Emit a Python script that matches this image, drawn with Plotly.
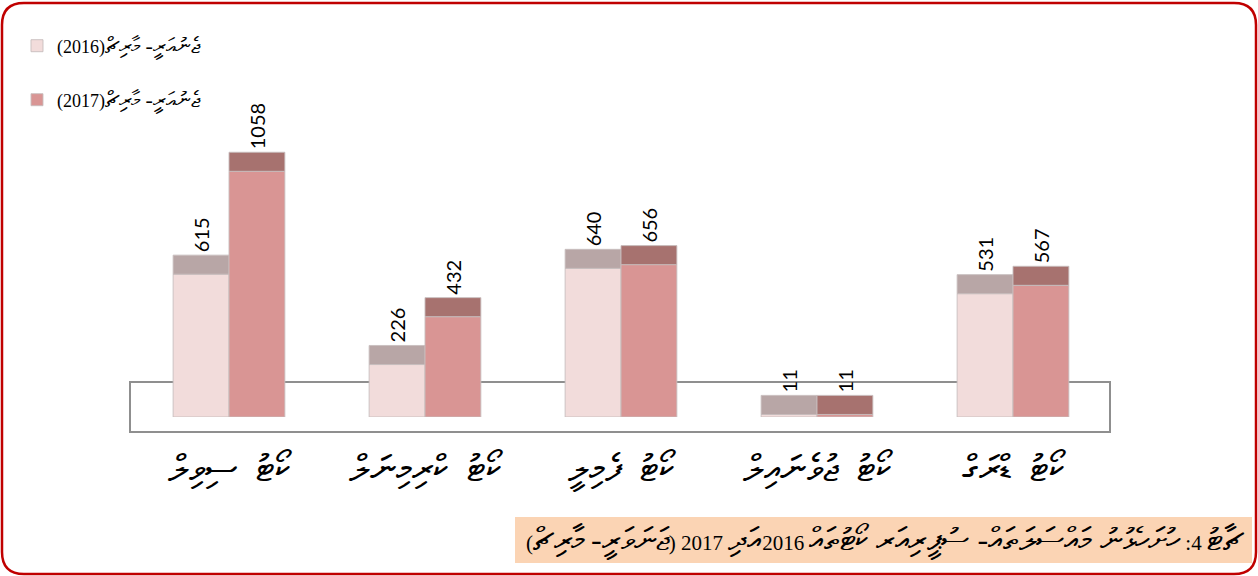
import re

import plotly.graph_objects as go

# data
categories = ["ސިވިލް ކޯޓު", "ކްރިމިނަލް ކޯޓު", "ފެމިލީ ކޯޓު", "ޖުވެނައިލް ކޯޓު", "ޑްރަގް ކޯޓު"]
values_2016 = [615, 226, 640, 11, 531]
values_2017 = [1058, 432, 656, 11, 567]
legend_2016 = "ޖެނުއަރީ- މާރިޗް(2016)"
legend_2017 = "ޖެނުއަރީ- މާރިޗް(2017)"
caption = "ޗާޓު 4: ހުށަހެޅުނު މައްސަލަތައް- ސުޕީރިއަރ ކޯޓުތައް 2016އަދި 2017 (ޖަނަވަރީ- މާރިޗް)"

W, H = 1258, 576
L, R, T, B = 131, 1111, 100, 417
Y_MAX = 1365
CAP = 82  # depth of the darker "3d" top face, in data units

SERIF = "'Liberation Serif', 'Times New Roman', serif"


def px(x):
    return (x - L) / (R - L)


def py(y):
    return (B - y) / (B - T)


def rtl(s):
    return "\u202b" + s + "\u202c"


def as_shown(s):
    # the reference puts the words left to right, so flip them for the rtl run
    return "  ".join(reversed(s.split(" ")))


def big_thaana(s, size):
    pat = r"([\u0780-\u07bf][\u0780-\u07bf \-]*[\u0780-\u07bf]|[\u0780-\u07bf])"
    return re.sub(pat, lambda m: f'<span style="font-size:{size}px">{m.group(1)}</span>', s)


def rounded_rect(x0, y0, x1, y1, r):
    pts = [
        f"M{px(x0 + r)},{py(y0)}", f"L{px(x1 - r)},{py(y0)}",
        f"Q{px(x1)},{py(y0)} {px(x1)},{py(y0 + r)}", f"L{px(x1)},{py(y1 - r)}",
        f"Q{px(x1)},{py(y1)} {px(x1 - r)},{py(y1)}", f"L{px(x0 + r)},{py(y1)}",
        f"Q{px(x0)},{py(y1)} {px(x0)},{py(y1 - r)}", f"L{px(x0)},{py(y0 + r)}",
        f"Q{px(x0)},{py(y0)} {px(x0 + r)},{py(y0)}", "Z",
    ]
    return " ".join(pts)


fig = go.Figure()
edge = {"color": "rgba(200,190,190,0.9)", "width": 1}
labels = [as_shown(c) for c in categories]

series = [
    ("a", values_2016, legend_2016, "#F2DCDB", "#B8A6A6", "legend"),
    ("b", values_2017, legend_2017, "#D99594", "#A7726F", "legend2"),
]
for grp, vals, name, body, cap, leg in series:
    fig.add_trace(go.Bar(
        x=labels, y=vals, offsetgroup=grp, name=rtl(big_thaana(name, 22)), legend=leg,
        marker={"color": body, "line": edge}, hoverinfo="skip",
    ))
    fig.add_trace(go.Bar(
        x=labels, y=[CAP] * len(vals), base=vals, offsetgroup=grp, showlegend=False,
        marker={"color": cap, "line": edge}, hoverinfo="skip",
        text=[str(v) for v in vals], textposition="outside", textangle=-90,
        constraintext="none", cliponaxis=False,
        outsidetextfont={"family": "Lato, 'Open Sans', sans-serif", "size": 20, "color": "#000"},
    ))

fig.add_shape(type="rect", xref="paper", yref="paper", layer="below",
              x0=px(130), x1=px(1110), y0=py(432), y1=py(382),
              line={"color": "#8f8f8f", "width": 2})
fig.add_shape(type="rect", xref="paper", yref="paper", layer="below",
              x0=px(515), x1=px(1252), y0=py(563), y1=py(517),
              fillcolor="#FBD4B4", line={"width": 0})
fig.add_shape(type="path", xref="paper", yref="paper",
              path=rounded_rect(2, 3, 1256, 574, 22),
              line={"color": "#C00000", "width": 2.5})

fig.add_annotation(text=rtl(big_thaana(caption, 32)), xref="paper", yref="paper",
                   x=px(1247), y=py(540), xanchor="right", yanchor="middle",
                   showarrow=False, font={"family": SERIF, "size": 21, "color": "#000"})

legend_style = {"xanchor": "left", "yanchor": "middle", "bgcolor": "rgba(0,0,0,0)",
                "font": {"family": SERIF, "size": 18, "color": "#000"}}
fig.update_layout(
    width=W, height=H,
    margin={"l": L, "r": W - R, "t": T, "b": H - B},
    paper_bgcolor="white", plot_bgcolor="white",
    barmode="group", bargap=0.43, bargroupgap=0,
    legend={**legend_style, "x": px(17), "y": py(46)},
    legend2={**legend_style, "x": px(17), "y": py(100)},
    xaxis={"showgrid": False, "showline": False, "zeroline": False, "ticks": "",
           "ticklabelstandoff": 26,
           "tickfont": {"family": SERIF, "size": 37, "color": "#000"}},
    yaxis={"range": [0, Y_MAX], "visible": False},
)

fig.write_html("out.html", config={"displayModeBar": False},
               post_script="document.body.style.margin='0';")
